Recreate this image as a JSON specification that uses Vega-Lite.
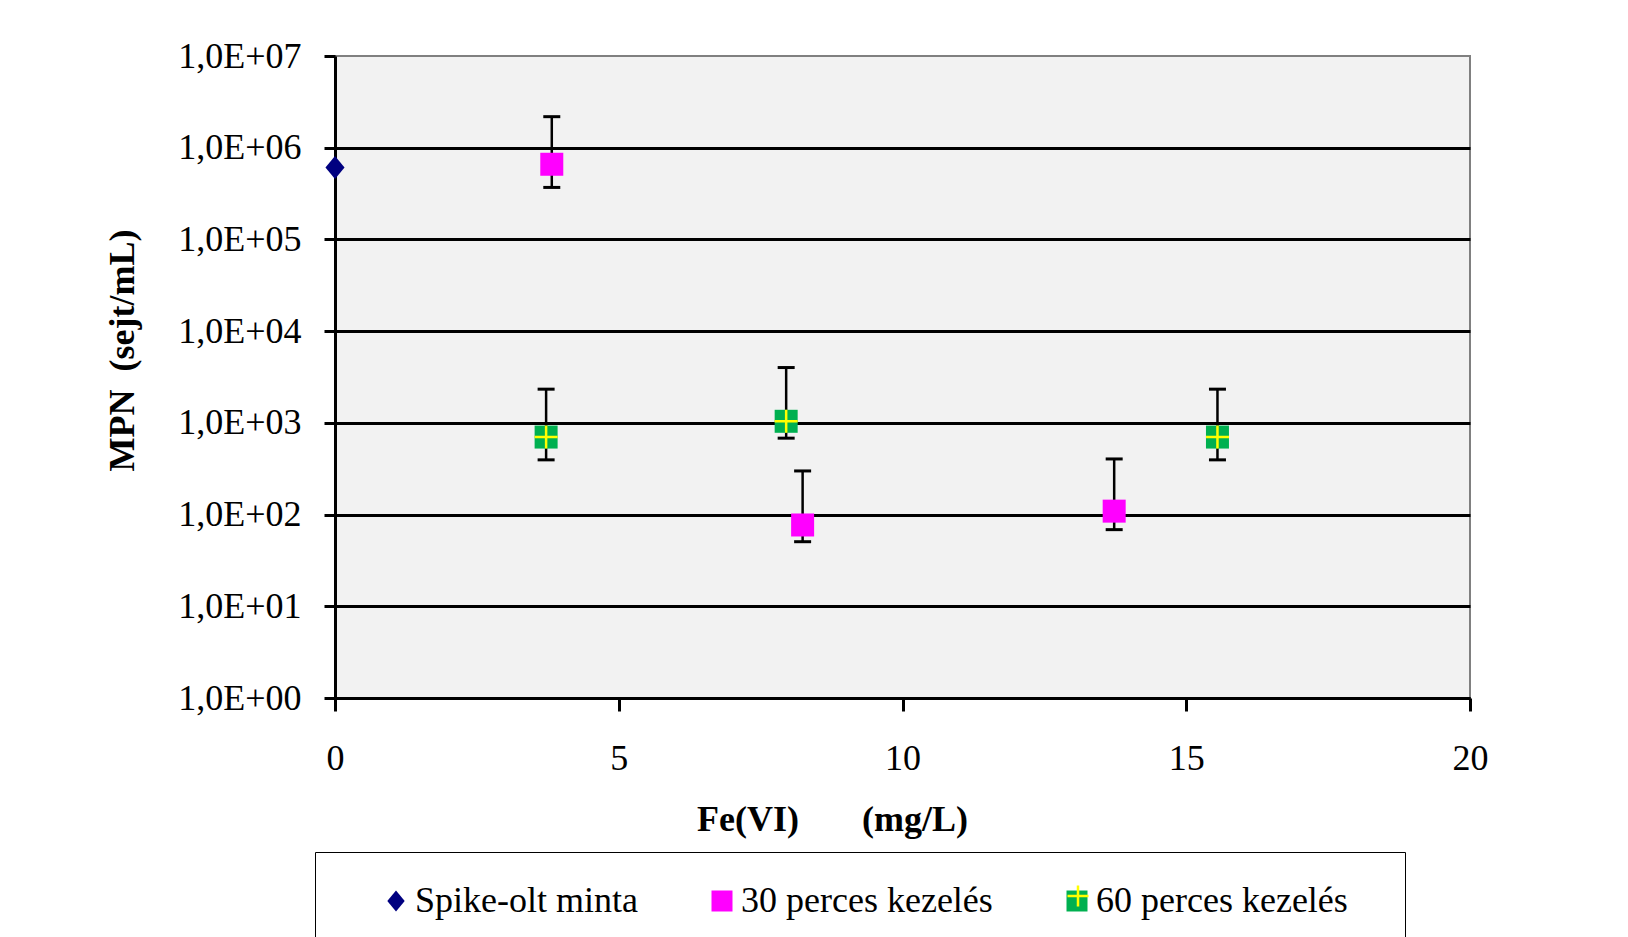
{
  "$schema": "https://vega.github.io/schema/vega-lite/v6.json",
  "width": 1135,
  "height": 642,
  "autosize": {"type": "none"},
  "padding": {"left": 335, "top": 56, "right": 158, "bottom": 239},
  "background": "#ffffff",
  "config": {
    "view": {"fill": "#f2f2f2", "stroke": "#808080", "strokeWidth": 2},
    "font": "Liberation Serif"
  },
  "data": {
    "values": [
      {"series": "Spike-olt minta", "x": 0, "y": 610000},
      {"series": "30 perces kezelés", "x": 3.82, "y": 660000, "lo": 369000, "hi": 2180000},
      {"series": "30 perces kezelés", "x": 8.24, "y": 77, "lo": 50.6, "hi": 299},
      {"series": "30 perces kezelés", "x": 13.73, "y": 109, "lo": 68.5, "hi": 404},
      {"series": "60 perces kezelés", "x": 3.72, "y": 700, "lo": 395, "hi": 2330},
      {"series": "60 perces kezelés", "x": 7.95, "y": 1040, "lo": 681, "hi": 4010},
      {"series": "60 perces kezelés", "x": 15.55, "y": 700, "lo": 395, "hi": 2330}
    ]
  },
  "encoding": {
    "x": {
      "field": "x", "type": "quantitative",
      "scale": {"domain": [0, 20], "nice": false, "zero": false},
      "axis": {
        "values": [0, 5, 10, 15, 20],
        "grid": false,
        "title": "Fe(VI)\u00a0\u00a0\u00a0\u00a0\u00a0\u00a0\u00a0(mg/L)",
        "titleFont": "Liberation Serif", "titleFontSize": 36, "titleFontWeight": "bold", "titleColor": "#000000",
        "titleX": 497, "titleY": 121, "titleAnchor": null, "titleAlign": "center", "titleBaseline": "middle",
        "labelFont": "Liberation Serif", "labelFontSize": 36, "labelColor": "#000000", "labelPadding": 30,
        "labelFlush": false,
        "tickSize": 13, "tickWidth": 3, "tickColor": "#000000",
        "domainColor": "#000000", "domainWidth": 3
      }
    },
    "y": {
      "field": "y", "type": "quantitative",
      "scale": {"type": "log", "domain": [1, 10000000], "nice": false},
      "axis": {
        "values": [1, 10, 100, 1000, 10000, 100000, 1000000, 10000000],
        "labelExpr": "'1,0E+0' + round(log(datum.value) / LN10)",
        "grid": true, "gridColor": "#000000", "gridWidth": 3,
        "gridOpacity": {"condition": {"test": "datum.value >= 10000000", "value": 0}, "value": 1},
        "title": "MPN\u00a0\u00a0(sejt/mL)",
        "titleFont": "Liberation Serif", "titleFontSize": 36, "titleFontWeight": "bold", "titleColor": "#000000",
        "titleX": -213, "titleY": 294, "titleAngle": -90, "titleAlign": "center", "titleBaseline": "middle",
        "labelFont": "Liberation Serif", "labelFontSize": 36, "labelColor": "#000000", "labelPadding": 23,
        "labelFlush": false,
        "tickSize": 11, "tickWidth": 3, "tickColor": "#000000",
        "domainColor": "#000000", "domainWidth": 3
      }
    }
  },
  "layer": [
    {
      "mark": {"type": "rule", "color": "#000000", "strokeWidth": 2.5},
      "encoding": {"y": {"field": "lo", "type": "quantitative"}, "y2": {"field": "hi"}}
    },
    {
      "mark": {"type": "tick", "orient": "horizontal", "color": "#000000", "size": 17, "thickness": 3, "opacity": 1},
      "encoding": {"y": {"field": "hi", "type": "quantitative"}}
    },
    {
      "mark": {"type": "tick", "orient": "horizontal", "color": "#000000", "size": 17, "thickness": 3, "opacity": 1},
      "encoding": {"y": {"field": "lo", "type": "quantitative"}}
    },
    {
      "mark": {"type": "point", "filled": true, "opacity": 1, "size": 529, "strokeWidth": 0},
      "encoding": {
        "color": {
          "field": "series", "type": "nominal",
          "scale": {"domain": ["Spike-olt minta", "30 perces kezelés", "60 perces kezelés"], "range": ["#000080", "#ff00ff", "#00b050"]},
          "legend": {
            "orient": "none", "legendX": -20, "legendY": 796, "direction": "horizontal",
            "title": "\u00a0", "titleOrient": "left", "titleFontSize": 1, "titlePadding": 32,
            "fillColor": "#ffffff", "strokeColor": "#000000", "padding": 31,
            "labelFont": "Liberation Serif", "labelFontSize": 36, "labelColor": "#000000", "labelOffset": 1, "labelLimit": 0,
            "labelExpr": "indexof(datum.label, '60') == 0 ? datum.label + '\u2800' : datum.label",
            "symbolSize": 441, "symbolStrokeWidth": 0, "symbolOpacity": 1, "columnPadding": 66
          }
        },
        "shape": {
          "field": "series", "type": "nominal",
          "scale": {"domain": ["Spike-olt minta", "30 perces kezelés", "60 perces kezelés"], "range": ["M0,-1L0.83,0L0,1L-0.83,0Z", "square", "square"]}
        }
      }
    },
    {
      "transform": [{"filter": "datum.series == '60 perces kezelés'"}],
      "mark": {"type": "point", "filled": false, "shape": "M-1,0L1,0M0,-1L0,1", "size": 529, "strokeWidth": 2.5, "opacity": 1},
      "encoding": {
        "stroke": {
          "field": "series", "type": "nominal",
          "scale": {"range": ["#ffff00"]},
          "legend": {
            "orient": "none", "legendX": 731, "legendY": 828, "title": null, "padding": 0,
            "labelFontSize": 1, "labelOpacity": 0, "labelOffset": 0,
            "symbolType": "M-1,0L1,0M0,-1L0,1", "symbolSize": 441, "symbolStrokeWidth": 2.5, "symbolOpacity": 1, "symbolFillColor": "transparent"
          }
        }
      }
    }
  ]
}
